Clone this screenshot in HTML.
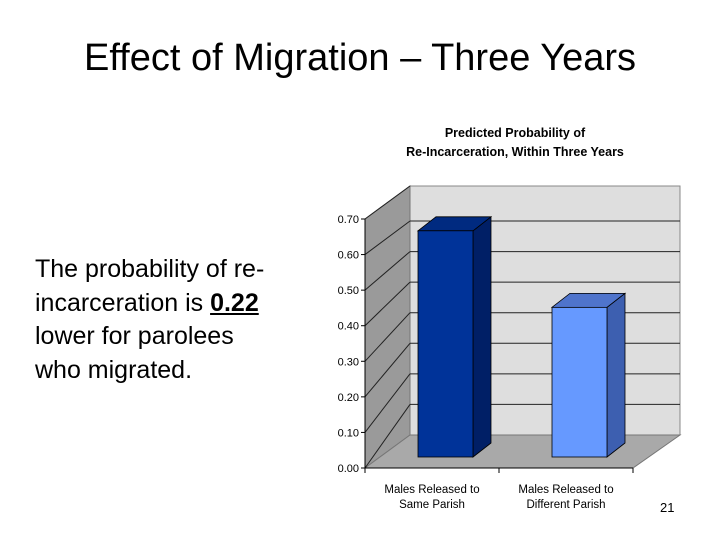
<!DOCTYPE html>
<html><head><meta charset="utf-8">
<style>
html,body{margin:0;padding:0;background:#fff;}
body{width:720px;height:540px;position:relative;overflow:hidden;font-family:"Liberation Sans",Arial,sans-serif;}
.title{position:absolute;left:0;width:720px;top:37px;text-align:center;font-size:38px;color:#000;}
.body{position:absolute;left:35px;top:253px;font-size:25px;line-height:33.5px;color:#000;}
.pg{position:absolute;left:660px;top:500px;font-size:13px;}
svg{position:absolute;left:0;top:0;}
</style></head>
<body>
<div class="title">Effect of Migration – Three Years</div>
<div class="body">The probability of re-<br>incarceration is <b><u>0.22</u></b><br>lower for parolees<br>who migrated.</div>
<div class="pg">21</div>
<svg id="chart" width="720" height="540"></svg>
<script>
const categories = [["Males Released to","Same Parish"],["Males Released to","Different Parish"]];
const values = [0.65, 0.43];
const ticks = [0,0.1,0.2,0.3,0.4,0.5,0.6,0.7];
const tickLabels = ["0.00","0.10","0.20","0.30","0.40","0.50","0.60","0.70"];
const svg = document.getElementById('chart');
const NS = 'http://www.w3.org/2000/svg';
function mk(tag, attrs, parent){const e=document.createElementNS(NS,tag);for(const k in attrs)e.setAttribute(k,attrs[k]);(parent||svg).appendChild(e);return e;}
const fx0=365, fx1=633, bx0=410, bx1=680;
const yF = v => 468 - v/0.7*249;
const yB = v => 435 - v/0.7*214;
const yBar = v => 457 - v*348;
let t = mk('text',{x:515,y:137,'text-anchor':'middle','font-size':'12.5','font-weight':'bold'});
t.textContent='Predicted Probability of';


t = mk('text',{x:515,y:156,'text-anchor':'middle','font-size':'12.5','font-weight':'bold'});
t.textContent='Re-Incarceration, Within Three Years';


let w = mk('rect',{x:bx0,y:186,width:bx1-bx0,height:435-186,fill:'#dedede',stroke:'#888','stroke-width':1});


w = mk('polygon',{points:`${fx0},${yF(0.7)} ${bx0},186 ${bx0},435 ${fx0},468`,fill:'#9a9a9a',stroke:'#777','stroke-width':1});


w = mk('polygon',{points:`${fx0},468 ${bx0},435 ${bx1},435 ${fx1},468`,fill:'#a9a9a9',stroke:'#777','stroke-width':1});


ticks.forEach((v,i)=>{
  if(v>0){
    const g = mk('line',{x1:bx0,x2:bx1,y1:yB(v),y2:yB(v),stroke:'#222','stroke-width':1});
    
    
  }
  const nv = i<ticks.length-1 ? yB(ticks[i+1]) : 186;
  const d = mk('line',{x1:fx0,y1:yF(v),x2:bx0,y2:nv,stroke:'#222','stroke-width':1});
  
  
  const tk = mk('line',{x1:fx0-4,x2:fx0,y1:yF(v),y2:yF(v),stroke:'#000'});
  
  
  const lb = mk('text',{x:fx0-6,y:yF(v)+4,'text-anchor':'end','font-size':'11'});
  lb.textContent = tickLabels[i];
  
  
});
let ax = mk('line',{x1:fx0,x2:fx0,y1:yF(0.7),y2:468,stroke:'#000'});


ax = mk('line',{x1:fx0,x2:fx1,y1:468,y2:468,stroke:'#000'});


const slot = (fx1-fx0)/categories.length;
for(let i=0;i<=categories.length;i++){
  const tk = mk('line',{x1:fx0+i*slot,x2:fx0+i*slot,y1:468,y2:473,stroke:'#000'});
  
  
}
const colors=[['#003399','#001f66','#002a80'],['#6699ff','#3d5fb0','#4f74cc']];
const bw=55, dx=18, dy=14;
values.forEach((v,i)=>{
  const x = fx0 + i*slot + slot/2 - bw/2 + 13.5;
  const yt = yBar(v), yb = yBar(0);
  const g = mk('g',{});
  
  
  mk('polygon',{points:`${x+bw},${yt} ${x+bw+dx},${yt-dy} ${x+bw+dx},${yb-dy} ${x+bw},${yb}`,fill:colors[i][1],stroke:'#000','stroke-width':0.8},g);
  mk('polygon',{points:`${x},${yt} ${x+dx},${yt-dy} ${x+bw+dx},${yt-dy} ${x+bw},${yt}`,fill:colors[i][2],stroke:'#000','stroke-width':0.8},g);
  mk('rect',{x:x,y:yt,width:bw,height:yb-yt,fill:colors[i][0],stroke:'#000','stroke-width':0.8},g);
  categories[i].forEach((ln,j)=>{
    const c = mk('text',{x:fx0+i*slot+slot/2,y:493+j*15,'text-anchor':'middle','font-size':'11.5'});
    c.textContent = ln;
    
    
  });
});
</script>
</body></html>
